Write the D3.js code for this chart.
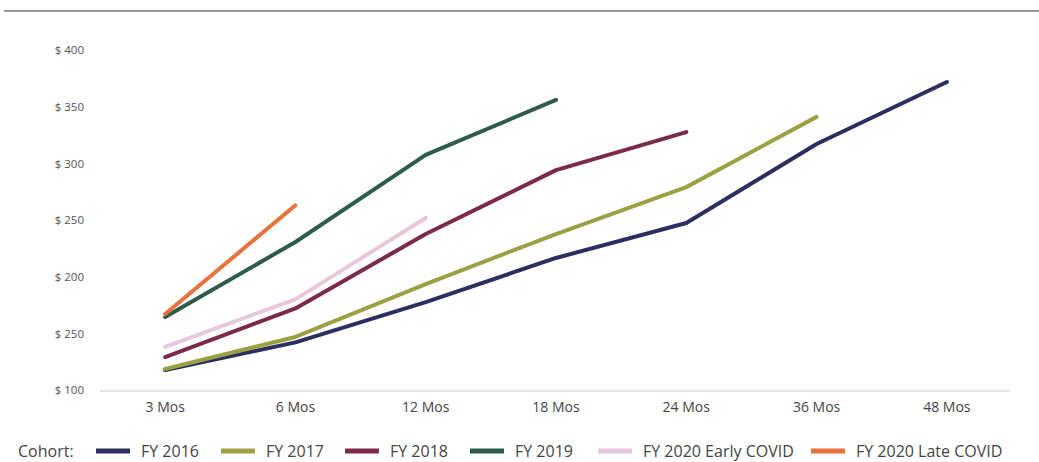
<!DOCTYPE html>
<html>
<head>
<meta charset="utf-8">
<script src="https://cdn.jsdelivr.net/npm/d3@7"></script>
<style>
  html, body { margin: 0; padding: 0; background: #fff; }
  svg { display: block; }
  text { font-family: "Open Sans", Lato, sans-serif; }
</style>
</head>
<body>
<svg id="chart" width="1039" height="462"></svg>
<script>
// Cohort revenue by months since acquisition
const periods = ["3 Mos", "6 Mos", "12 Mos", "18 Mos", "24 Mos", "36 Mos", "48 Mos"];
const yTickValues = [100, 150, 200, 250, 300, 350, 400];
const yTickLabels = ["$ 100", "$ 250", "$ 200", "$ 250", "$ 300", "$ 350", "$ 400"];

const cohortNames = ["FY 2016", "FY 2017", "FY 2018", "FY 2019", "FY 2020 Early COVID", "FY 2020 Late COVID"];
const cohortColors = ["#2b2f5f", "#9ba143", "#7b2a4a", "#2e5b4c", "#e6c7dc", "#e8733a"];

const fy2016 = [117.6, 142, 177.6, 216.5, 247.4, 317, 371.8];
const fy2017 = [118.5, 146.8, 193.5, 237.6, 279, 341];
const fy2018 = [129, 172, 237.6, 294, 327.6];
const fy2019 = [164.4, 230.6, 307.4, 356];
const fy2020Early = [138, 180, 251.8];
const fy2020Late = [167, 263];

const cohortValues = [fy2016, fy2017, fy2018, fy2019, fy2020Early, fy2020Late];

const svg = d3.select("#chart");

// frame rule across the top
svg.append("line")
  .attr("x1", 4).attr("x2", 1039)
  .attr("y1", 11).attr("y2", 11)
  .attr("stroke", "#9a9a9a").attr("stroke-width", 2);

const x = d3.scaleBand().domain(periods).range([100, 1012]);
const y = d3.scaleLinear().domain([100, 400]).range([390, 50]);

// baseline
svg.append("line")
  .attr("x1", 100).attr("x2", 1010)
  .attr("y1", y(100) + 1).attr("y2", y(100) + 1)
  .attr("stroke", "#dddddd").attr("stroke-width", 1.5);

// y axis labels
const yAxis = d3.axisLeft(y)
  .tickValues(yTickValues)
  .tickFormat((d, i) => yTickLabels[i])
  .tickSize(0).tickPadding(0);
const gy = svg.append("g").attr("transform", "translate(84,0)").call(yAxis);
gy.select(".domain").remove();
gy.selectAll("text")
  .attr("fill", "#555")
  .style("font-size", "11.5px")
  .style("font-family", "'Open Sans', Lato, sans-serif");

// x axis labels
const xAxis = d3.axisBottom(x).tickSize(0).tickPadding(0);
const gx = svg.append("g").attr("transform", "translate(0,402)").call(xAxis);
gx.select(".domain").remove();
gx.selectAll("text")
  .attr("fill", "#444")
  .style("font-size", "14px")
  .style("font-family", "'Open Sans', Lato, sans-serif");

// cohort lines
const line = d3.line()
  .x((d, i) => x(periods[i]) + x.bandwidth() / 2)
  .y(d => y(d));

svg.append("g").selectAll("path")
  .data(cohortValues)
  .join("path")
  .attr("d", d => line(d))
  .attr("fill", "none")
  .attr("stroke", (d, i) => cohortColors[i])
  .attr("stroke-width", 4)
  .attr("stroke-linejoin", "round")
  .attr("stroke-linecap", "round");

// legend
const legend = svg.append("g").attr("transform", "translate(0,451)");
legend.append("text")
  .attr("x", 18).attr("y", 0).attr("dy", "0.35em")
  .attr("fill", "#444").style("font-size", "16px")
  .text("Cohort:");

const swatchX = [96, 221, 345, 470, 598, 811];
const items = legend.selectAll("g.item")
  .data(cohortNames)
  .join("g")
  .attr("class", "item")
  .attr("transform", (d, i) => `translate(${swatchX[i]},0)`);
items.append("line")
  .attr("x1", 0).attr("x2", 34)
  .attr("y1", 0).attr("y2", 0)
  .attr("stroke", (d, i) => cohortColors[i])
  .attr("stroke-width", 5);
items.append("text")
  .attr("x", 45).attr("y", 0).attr("dy", "0.35em")
  .attr("fill", "#444").style("font-size", "16px")
  .text(d => d);
</script>
</body>
</html>
